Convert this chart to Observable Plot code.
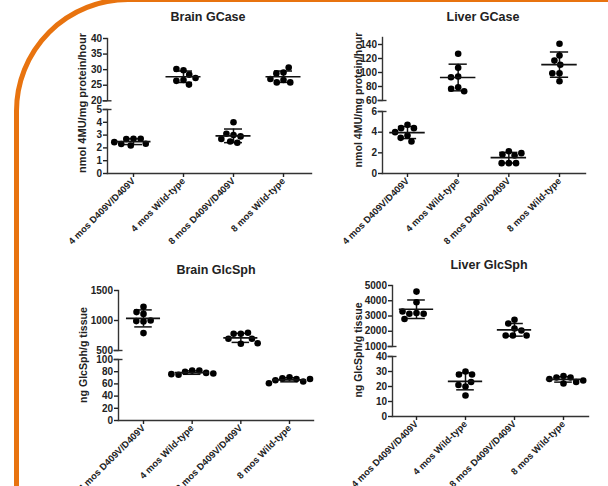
<!DOCTYPE html>
<html><head><meta charset="utf-8">
<script src="https://cdn.jsdelivr.net/npm/d3@7"></script>
<script src="https://cdn.jsdelivr.net/npm/@observablehq/plot@0.6"></script>
<style>
body{margin:0;background:#fff;}
#root{position:relative;width:608px;height:486px;overflow:hidden;font-family:"Liberation Sans",Arial,sans-serif;}
.frame{position:absolute;left:14px;top:-3px;width:800px;height:800px;border:5px solid #E8730F;border-radius:114px;box-sizing:border-box;}
.title{position:absolute;font-weight:bold;font-size:12.5px;color:#222;transform:translate(-50%,-50%);white-space:nowrap;}
.ylab{position:absolute;font-weight:bold;font-size:10.5px;color:#222;transform:translate(-50%,-50%) rotate(-90deg);white-space:nowrap;}
#root svg{position:absolute;}
</style></head><body><div id="root"><div class="frame"></div></div>
<script>
const categories = ["4 mos D409V/D409V", "4 mos Wild-type", "8 mos D409V/D409V", "8 mos Wild-type"];

const brainGCase = [
  [2.71, 2.70, 2.72, 2.32, 2.19, 2.30, 2.45],
  [29.8, 30.2, 28.4, 26.7, 26.4, 27.3, 25.2],
  [4.0, 3.0, 3.1, 2.9, 2.5, 2.4, 2.7],
  [29.1, 28.8, 30.7, 26.7, 25.9, 25.9, 27.0]
];
const liverGCase = [
  [4.71, 4.39, 4.39, 3.68, 4.0, 3.45, 3.1],
  [126.7, 106.7, 94.3, 93.3, 79, 76.7, 73.3],
  [2.16, 1.84, 1.74, 1.97, 1.0, 1.0, 1.0],
  [141, 124.3, 117, 111, 99, 99, 87.6]
];
const brainGlcSph = [
  [1110, 1140, 1230, 985, 990, 1000, 790],
  [82, 80, 82, 78, 75, 76, 77],
  [778, 778, 795, 695, 695, 612, 622],
  [71, 69, 68, 66, 64, 61, 68]
];
const liverGlcSph = [
  [4600, 3900, 3200, 3150, 3150, 3300, 2800],
  [30, 28, 28, 20, 21, 14, 23],
  [2750, 2510, 2180, 2050, 1720, 1720, 1720],
  [27, 26, 26, 25, 23, 22, 24]
];

const titles = ["Brain GCase", "Liver GCase", "Brain GlcSph", "Liver GlcSph"];
const yTitles = ["nmol 4MU/mg protein/hour", "nmol 4MU/mg protein/hour", "ng GlcSph/g tissue", "ng GlcSph/g tissue"];

const upperDomains = [[20, 40], [60, 150], [500, 1500], [1000, 5000]];
const upperTicks = [[20, 25, 30, 35, 40], [60, 80, 100, 120, 140], [500, 1000, 1500], [1000, 2000, 3000, 4000, 5000]];
const lowerDomains = [[0, 5], [0, 6], [0, 100], [0, 40]];
const lowerTicks = [[0, 1, 2, 3, 4, 5], [0, 2, 4, 6], [0, 20, 40, 60, 80, 100], [0, 10, 20, 30, 40]];

// layout (pixels)
const layouts = [
  {axisX: 107, rightX: 311, cat0: 133, cat3: 283, up: [37.7, 100], low: [109, 173], tx: 208, ty: 17, lx: 82, ly: 103, lfs: 11},
  {axisX: 382, rightX: 585, cat0: 407, cat3: 559, up: [37, 100], low: [111, 173], tx: 483, ty: 17, lx: 358, ly: 100, lfs: 10.6},
  {axisX: 118, rightX: 313, cat0: 143, cat3: 289, up: [290, 350], low: [359, 420], tx: 216, ty: 270, lx: 83, ly: 355, lfs: 10.6},
  {axisX: 392, rightX: 588, cat0: 416, cat3: 563, up: [285, 346], low: [356, 416], tx: 489, ty: 265, lx: 358, ly: 350, lfs: 10.5}
];

const root = document.getElementById("root");
const INK = "#222";
const FONT = "Liberation Sans, Arial, sans-serif";

function dodge(ys, r) {
  const placed = [], out = [];
  for (const y of ys) {
    const near = placed.filter(p => Math.abs(p.y - y) < 2 * r);
    const cands = [0];
    for (const p of near) {
      const w = Math.sqrt(4 * r * r - (p.y - y) ** 2);
      cands.push(p.x - w, p.x + w);
    }
    cands.sort((a, b) => Math.abs(a) - Math.abs(b) || a - b);
    let x = 0;
    for (const c of cands) {
      if (near.every(p => (p.x - c) ** 2 + (p.y - y) ** 2 >= 4 * r * r - 1e-6)) { x = c; break; }
    }
    placed.push({x, y}); out.push(x);
  }
  return out;
}

function drawPanel(k, values) {
  const lay = layouts[k];
  const step = (lay.cat3 - lay.cat0) / 3;
  const L = lay.axisX - 45, mr = 6;
  const width = lay.rightX - L + mr;
  const segs = [
    {domain: upperDomains[k], ticks: upperTicks[k], top: lay.up[0], bot: lay.up[1], lower: false},
    {domain: lowerDomains[k], ticks: lowerTicks[k], top: lay.low[0], bot: lay.low[1], lower: true}
  ];
  const segOf = v => (v >= segs[0].domain[0] ? segs[0] : segs[1]);
  const pix = v => { const s = segOf(v); return s.bot - (v - s.domain[0]) / (s.domain[1] - s.domain[0]) * (s.bot - s.top); };
  const rows = [], stats = [];
  values.forEach((vals, i) => {
    const offs = dodge(vals.map(pix), 3.6);
    vals.forEach((v, j) => rows.push({i, v, seg: segOf(v), xo: i + offs[j] / step}));
    const mean = d3.mean(vals), sd = d3.deviation(vals);
    stats.push({i, mean, sd, seg: segOf(mean)});
  });

  const t = document.createElement("div");
  t.className = "title"; t.textContent = titles[k];
  t.style.left = lay.tx + "px"; t.style.top = lay.ty + "px";
  root.appendChild(t);
  const yl = document.createElement("div");
  yl.className = "ylab"; yl.textContent = yTitles[k];
  yl.style.left = lay.lx + "px"; yl.style.top = lay.ly + "px"; yl.style.fontSize = lay.lfs + "px";
  root.appendChild(yl);

  for (const seg of segs) {
    const mt = 8, mb = seg.lower ? 100 : 8;
    const T = seg.top - mt;
    const height = Math.round(seg.bot - seg.top + mt + mb);
    const pts = rows.filter(d => d.seg === seg);
    const st = stats.filter(d => d.seg === seg);
    const breakTick = seg.lower ? seg.domain[1] : seg.domain[0];
    const marks = [
      Plot.frame({anchor: "left", stroke: "#333", strokeWidth: 1.4}),
      Plot.axisY({ticks: seg.ticks, tickFormat: d => String(d), tickSize: 4, tickPadding: 1.5, fontSize: 10, fontWeight: "bold", color: INK, strokeWidth: 1.4, label: null}),
      Plot.axisY({ticks: [breakTick], tickSize: 9, dx: 4.5, text: null, stroke: "#333", strokeWidth: 1.4, label: null}),
      Plot.ruleX(st, {x: "i", y1: d => d.mean - d.sd, y2: d => d.mean + d.sd, stroke: "#111", strokeWidth: 1.5}),
      Plot.ruleY(st, {y: d => d.mean + d.sd, x1: d => d.i - 0.18, x2: d => d.i + 0.18, stroke: "#111", strokeWidth: 1.5}),
      Plot.ruleY(st, {y: d => d.mean - d.sd, x1: d => d.i - 0.18, x2: d => d.i + 0.18, stroke: "#111", strokeWidth: 1.5}),
      Plot.dot(pts, {x: "xo", y: "v", r: 3.3, fill: "#000"}),
      Plot.ruleY(st, {y: "mean", x1: d => d.i - 0.35, x2: d => d.i + 0.35, stroke: "#111", strokeWidth: 1.7})
    ];
    if (seg.lower) {
      marks.push(
        Plot.frame({anchor: "bottom", stroke: "#333", strokeWidth: 1.4}),
        Plot.axisX({ticks: [0, 1, 2, 3], tickFormat: i => categories[i], tickRotate: -45, tickSize: 4, tickPadding: 2,
          fontSize: 9.4, fontWeight: "bold", color: INK, strokeWidth: 1.4, label: null})
      );
    }
    const svg = Plot.plot({
      width, height,
      marginLeft: lay.axisX - L, marginRight: mr, marginTop: mt, marginBottom: mb,
      x: {domain: [0, 3], range: [lay.cat0 - L, lay.cat3 - L], axis: seg.lower ? undefined : null},
      y: {domain: seg.domain, range: [seg.bot - T, seg.top - T]},
      style: {background: "none", overflow: "visible", fontFamily: FONT, color: INK},
      marks
    });
    svg.style.left = L + "px";
    svg.style.top = T + "px";
    root.appendChild(svg);
  }
}

[brainGCase, liverGCase, brainGlcSph, liverGlcSph].forEach((vals, k) => drawPanel(k, vals));
</script>
</body></html>
